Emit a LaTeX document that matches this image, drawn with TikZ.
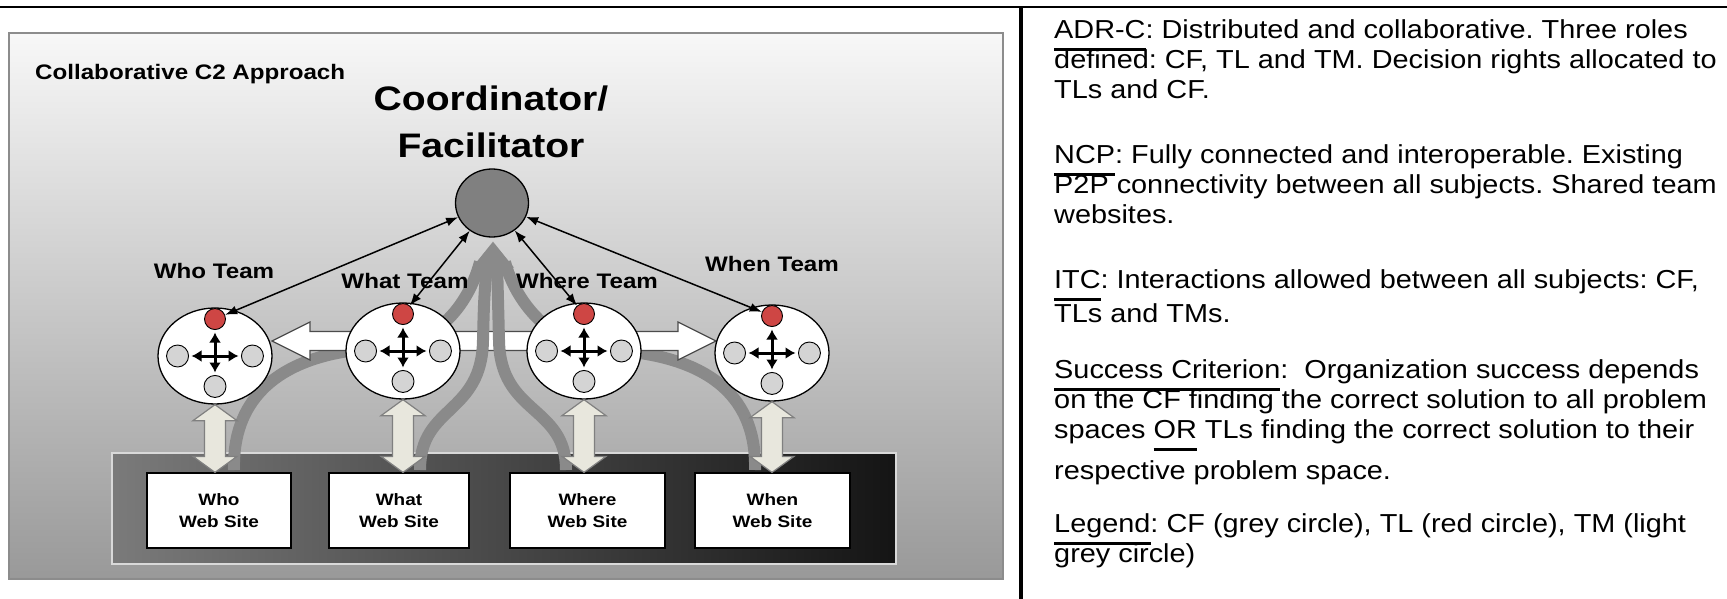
\documentclass[tikz,border=0pt]{standalone}
\usepackage{fontspec}
\setmainfont{Liberation Sans}
\newfontfamily\notefont[FakeStretch=1.11]{Liberation Sans}
\newfontfamily\figfont[FakeStretch=1.15]{Liberation Sans}
\usetikzlibrary{positioning,arrows.meta,calc,shapes.geometric}
\frenchspacing

\definecolor{tlred}{RGB}{206,70,68}
\definecolor{tmgrey}{RGB}{212,212,212}
\definecolor{cfgrey}{RGB}{128,128,128}
\definecolor{bandgrey}{RGB}{138,138,138}
\definecolor{linkfill}{RGB}{232,231,221}

% bar set low under a word
\newcommand{\ulbar}[1]{\setbox0\hbox{#1}\rlap{\smash{\rule[-13pt]{\wd0}{2.6pt}}}\box0\relax}

% wide double arrow between a team and its web site
\newcommand{\updown}[2]{%
  \filldraw[sitelink] let \p1=(#1.south), \p2=(#2.north), \n1={\y1-\y2} in
    (\x1,\y1) -- ++(22pt,-16pt) -- ++(-11.5pt,0pt) -- ++(0pt,-\n1+32pt)
    -- ++(11.5pt,0pt) -- ++(-22pt,-16pt) -- ++(-22pt,16pt) -- ++(11.5pt,0pt)
    -- ++(0pt,\n1-32pt) -- ++(-11.5pt,0pt) -- cycle;}

\begin{document}
\begin{tikzpicture}[x=1pt, y=-1pt,
  team/.style={ellipse, draw, fill=white, line width=1.3pt,
    minimum width=114pt, minimum height=96pt, inner sep=0pt},
  tl/.style={circle, draw, fill=tlred, line width=0.9pt, minimum size=21pt, inner sep=0pt},
  tm/.style={circle, draw, fill=tmgrey, line width=0.9pt, minimum size=22pt, inner sep=0pt},
  cross/.style={{Latex[length=10pt,width=12pt]}-{Latex[length=10pt,width=12pt]},
    line width=3pt, shorten >=2.5pt, shorten <=2.5pt},
  tlarrow/.style={{Latex[length=12pt,width=9pt]}-{Latex[length=12pt,width=9pt]}, line width=1.5pt},
  site/.style={draw, fill=white, line width=1.2pt, minimum height=75pt, inner sep=0pt,
    align=center, font=\figfont\bfseries\fontsize{16.5}{22}\selectfont},
  teamlabel/.style={anchor=base, inner sep=0pt, font=\figfont\bfseries\fontsize{21}{25}\selectfont},
  band/.style={draw=bandgrey, line width=12pt},
  hlink/.style={fill=white, draw=black!70, line width=1.2pt},
  sitelink/.style={fill=linkfill, draw=black!50, line width=1.2pt},
  note/.style={anchor=north west, align=left, inner sep=0pt,
    font=\notefont\fontsize{26}{30}\selectfont}]
\useasboundingbox (0,0) rectangle (1727,599);

% page rules
\draw[line width=2.5pt] (0,7) -- (1727,7);
\draw[line width=3.5pt] (1021,7) -- (1021,599);

% the picture on the left
\shadedraw[top color=white!97!black, middle color=black!14, bottom color=black!40,
  draw=black!45, line width=2pt] (9,33) rectangle (1003,579);
\shadedraw[left color=black!52, right color=black!92, draw=white!85!black,
  line width=1.5pt] (112,453) rectangle (896,564);

\node[anchor=base west, inner sep=0pt, font=\figfont\bfseries\fontsize{21}{25}\selectfont]
  (title) at (35,80) {Collaborative C2 Approach};
\node[align=center, inner sep=0pt, font=\figfont\bfseries\fontsize{34}{47}\selectfont]
  (cftitle) at (491,122) {Coordinator/\\Facilitator};
\node[ellipse, draw, fill=cfgrey, line width=1.3pt, minimum width=73pt,
  minimum height=68pt] (cf) at (492,203) {};

% grey bands from the web sites up to the CF
\draw[band] (234,470) .. controls (232,390) and (290,352) .. (380,348)
  .. controls (440,346) and (470,300) .. (480,262);
\draw[band] (755,470) .. controls (757,390) and (700,355) .. (610,350)
  .. controls (550,348) and (515,300) .. (505,262);

\coordinate (whoedge) at (272,341);
\coordinate (whenedge) at (716,341);
\filldraw[hlink] let \p1=(whoedge), \p2=(whenedge), \n1={\x2-\x1} in
  (\p1) -- ++(38pt,19pt) -- ++(0pt,-9.5pt) -- ++(\n1-76pt,0pt) -- ++(0pt,9.5pt)
  -- ++(38pt,-19pt) -- ++(-38pt,-19pt) -- ++(0pt,9.5pt) -- ++(-\n1+76pt,0pt)
  -- ++(0pt,-9.5pt) -- cycle;

\draw[band] (420,470) .. controls (420,405) and (482,415) .. (483,340)
  .. controls (484,300) .. (487,262);
\draw[band] (566,470) .. controls (566,405) and (500,415) .. (499,340)
  .. controls (498,300) .. (497,262);
\fill[bandgrey] ($(cf.south)+(1,4)$) -- ++(-21pt,-26pt) -- ++(42pt,0pt) -- cycle;

% teams
\node[team] (whoteam) at (215,356) {};
\node[tl, above=26pt of whoteam.center] (whotl) {};
\node[tm, left=26pt of whoteam.center] (whotmw) {};
\node[tm, right=26pt of whoteam.center] (whotme) {};
\node[tm, below=19pt of whoteam.center] (whotms) {};
\draw[cross] (whotmw) -- (whotme);
\draw[cross] (whotl) -- (whotms);

\node[team] (whatteam) at (403,351) {};
\node[tl, above=26pt of whatteam.center] (whattl) {};
\node[tm, left=26pt of whatteam.center] (whattmw) {};
\node[tm, right=26pt of whatteam.center] (whattme) {};
\node[tm, below=19pt of whatteam.center] (whattms) {};
\draw[cross] (whattmw) -- (whattme);
\draw[cross] (whattl) -- (whattms);

\node[team] (whereteam) at (584,351) {};
\node[tl, above=26pt of whereteam.center] (wheretl) {};
\node[tm, left=26pt of whereteam.center] (wheretmw) {};
\node[tm, right=26pt of whereteam.center] (wheretme) {};
\node[tm, below=19pt of whereteam.center] (wheretms) {};
\draw[cross] (wheretmw) -- (wheretme);
\draw[cross] (wheretl) -- (wheretms);

\node[team] (whenteam) at (772,353) {};
\node[tl, above=26pt of whenteam.center] (whentl) {};
\node[tm, left=26pt of whenteam.center] (whentmw) {};
\node[tm, right=26pt of whenteam.center] (whentme) {};
\node[tm, below=19pt of whenteam.center] (whentms) {};
\draw[cross] (whentmw) -- (whentme);
\draw[cross] (whentl) -- (whentms);

% web sites
\node[site, minimum width=144pt] (whosite) at (219,510.5) {Who\\Web Site};
\node[site, minimum width=140pt] (whatsite) at (399,510.5) {What\\Web Site};
\node[site, minimum width=155pt] (wheresite) at (587.5,510.5) {Where\\Web Site};
\node[site, minimum width=155pt] (whensite) at (772.5,510.5) {When\\Web Site};

\updown{whoteam}{whosite}
\updown{whatteam}{whatsite}
\updown{whereteam}{wheresite}
\updown{whenteam}{whensite}

% CF to team leaders
\draw[tlarrow] (cf) -- (whotl);
\draw[tlarrow] (cf) -- (whattl);
\draw[tlarrow] (cf) -- (wheretl);
\draw[tlarrow] (cf) -- (whentl);

\node[teamlabel] (wholabel) at (214,278) {Who Team};
\node[teamlabel] (whatlabel) at (405,288) {What Team};
\node[teamlabel] (wherelabel) at (587,288) {Where Team};
\node[teamlabel] (whenlabel) at (772,271) {When Team};

% notes on the right
\node[note] (adrc) at (1054,19) {\ulbar{ADR-C}: Distributed and collaborative. Three roles\\
  defined: CF, TL and TM. Decision rights allocated to\\TLs and CF.};
\node[note] (ncp) at (1054,144) {\ulbar{NCP}: Fully connected and interoperable. Existing\\
  P2P connectivity between all subjects. Shared team\\websites.};
\node[note] (itc) at (1054,269) {\ulbar{ITC}: Interactions allowed between all subjects: CF,\\[4pt]
  TLs and TMs.};
\node[note] (success) at (1054,359) {\ulbar{Success Criterion}:\ \ Organization success depends\\
  on the CF finding the correct solution to all problem\\
  spaces \ulbar{OR} TLs finding the correct solution to their\\[11pt]
  respective problem space.};
\node[note] (legend) at (1054,513) {\ulbar{Legend}: CF (grey circle), TL (red circle), TM (light\\
  grey circle)};
\end{tikzpicture}
\end{document}
